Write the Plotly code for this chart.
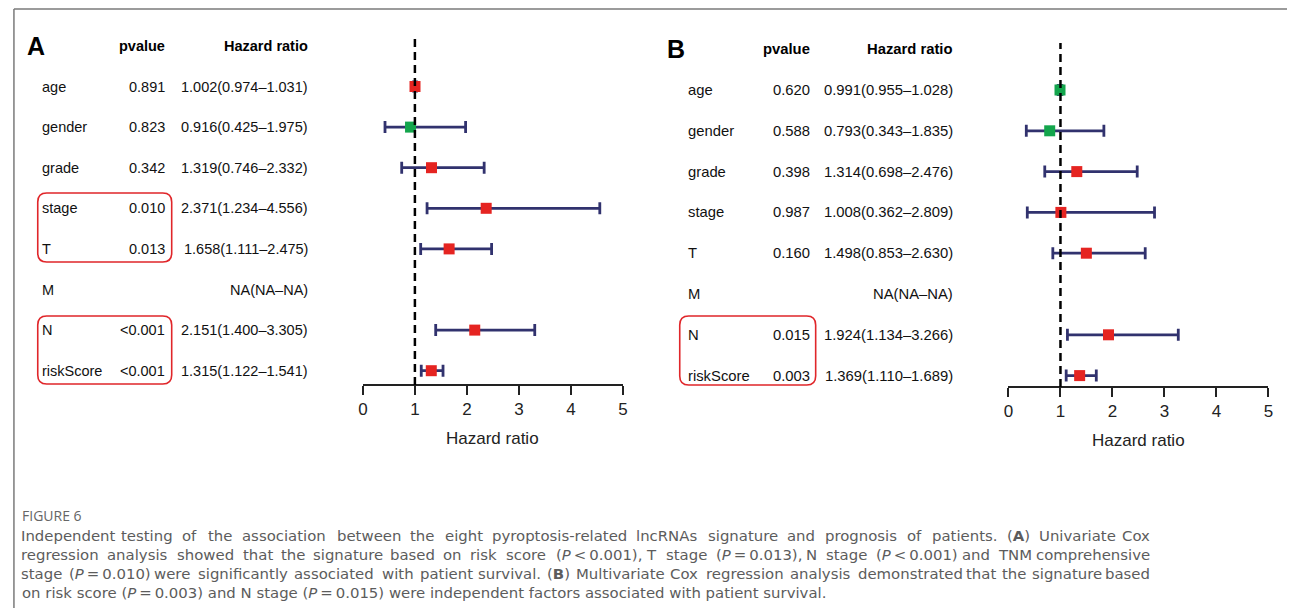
import re
import plotly.graph_objects as go

# ---------------- data ----------------
variables = ["age", "gender", "grade", "stage", "T", "M", "N", "riskScore"]

pvalue_A = ["0.891", "0.823", "0.342", "0.010", "0.013", "", "&lt;0.001", "&lt;0.001"]
hr_A = [1.002, 0.916, 1.319, 2.371, 1.658, None, 2.151, 1.315]
lo_A = [0.974, 0.425, 0.746, 1.234, 1.111, None, 1.400, 1.122]
hi_A = [1.031, 1.975, 2.332, 4.556, 2.475, None, 3.305, 1.541]

pvalue_B = ["0.620", "0.588", "0.398", "0.987", "0.160", "", "0.015", "0.003"]
hr_B = [0.991, 0.793, 1.314, 1.008, 1.498, None, 1.924, 1.369]
lo_B = [0.955, 0.343, 0.698, 0.362, 0.853, None, 1.134, 1.110]
hi_B = [1.028, 1.835, 2.476, 2.809, 2.630, None, 3.266, 1.689]

x_ticks = [0, 1, 2, 3, 4, 5]

caption_title = "FIGURE 6"
caption_lines = [
    "Independent testing of the association between the eight pyroptosis-related lncRNAs signature and prognosis of patients. (<b>A</b>) Univariate Cox",
    "regression analysis showed that the signature based on risk score (<i>P</i>\u2009&lt;\u20090.001), T stage (<i>P</i>\u2009=\u20090.013), N stage (<i>P</i>\u2009&lt;\u20090.001) and TNM comprehensive",
    "stage (<i>P</i>\u2009=\u20090.010) were significantly associated with patient survival. (<b>B</b>) Multivariate Cox regression analysis demonstrated that the signature based",
    "on risk score (<i>P</i>\u2009=\u20090.003) and N stage (<i>P</i>\u2009=\u20090.015) were independent factors associated with patient survival.",
]

# ---------------- layout helpers ----------------
W, H = 1292, 608
RED = "#e52421"
GREEN = "#13a54c"
NAVY = "#31326e"
BOXRED = "#e0262a"
FONT = "Liberation Sans, Arial, Helvetica, sans-serif"


def fx(p):
    return p / W


def fy(p):
    return 1 - p / H


def hr_text(h, l, u):
    if h is None:
        return "NA(NA\u2013NA)"
    return f"{h:.3f}({l:.3f}\u2013{u:.3f})"


fig = go.Figure()


def add_forest(hr, lo, hi, xa, ya):
    xs, ys, ep, em, cols = [], [], [], [], []
    for i, (h, l, u) in enumerate(zip(hr, lo, hi)):
        if h is None:
            continue
        xs.append(h)
        ys.append(i)
        ep.append(u - h)
        em.append(h - l)
        cols.append(RED if h > 1 else GREEN)
    fig.add_trace(go.Scatter(
        x=xs, y=ys, xaxis=xa, yaxis=ya, mode="markers",
        marker=dict(symbol="square", size=11, color=cols, line=dict(width=0)),
        error_x=dict(type="data", symmetric=False, array=ep, arrayminus=em,
                     color=NAVY, thickness=2.8, width=6),
        showlegend=False, hoverinfo="skip", cliponaxis=False,
    ))


add_forest(hr_A, lo_A, hi_A, "x", "y")
add_forest(hr_B, lo_B, hi_B, "x2", "y2")

annotations = []
shapes = []


def panel(letter, pv, hr, lo, hi, yref, x_letter, x_name, x_pv, x_hr, fs):
    annotations.append(dict(text=f"<b>{letter}</b>", xref="paper", yref=yref, x=fx(x_letter), y=-1,
                            xanchor="left", yanchor="middle", showarrow=False,
                            font=dict(family=FONT, size=25, color="black")))
    annotations.append(dict(text="<b>pvalue</b>", xref="paper", yref=yref, x=fx(x_pv), y=-1,
                            xanchor="right", yanchor="middle", showarrow=False,
                            font=dict(family=FONT, size=fs, color="black")))
    annotations.append(dict(text="<b>Hazard ratio</b>", xref="paper", yref=yref, x=fx(x_hr), y=-1,
                            xanchor="right", yanchor="middle", showarrow=False,
                            font=dict(family=FONT, size=fs, color="black")))
    for i, name in enumerate(variables):
        annotations.append(dict(text=name, xref="paper", yref=yref, x=fx(x_name), y=i,
                                xanchor="left", yanchor="middle", showarrow=False,
                                font=dict(family=FONT, size=fs, color="#111")))
        if pv[i]:
            annotations.append(dict(text=pv[i], xref="paper", yref=yref, x=fx(x_pv), y=i,
                                    xanchor="right", yanchor="middle", showarrow=False,
                                    font=dict(family=FONT, size=fs, color="#111")))
        annotations.append(dict(text=hr_text(hr[i], lo[i], hi[i]), xref="paper", yref=yref,
                                x=fx(x_hr), y=i, xanchor="right", yanchor="middle", showarrow=False,
                                font=dict(family=FONT, size=fs, color="#111")))


panel("A", pvalue_A, hr_A, lo_A, hi_A, "y", 20, 35, 163, 307, 14.5)
panel("B", pvalue_B, hr_B, lo_B, hi_B, "y2", 665, 686, 813, 957, 14.8)

# axis titles
for xr, ypx in (("x", 438), ("x2", 440)):
    annotations.append(dict(text="Hazard ratio", xref=f"{xr} domain", yref="paper", x=0.5, y=fy(ypx),
                            xanchor="center", yanchor="middle", showarrow=False,
                            font=dict(family=FONT, size=17, color="#222")))

# reference lines at HR = 1
for xr, top, bot in (("x", 39, 385), ("x2", 43, 387)):
    shapes.append(dict(type="line", xref=xr, yref="paper", x0=1, x1=1, y0=fy(bot), y1=fy(top),
                       line=dict(color="black", width=2.5, dash="8px,5px"), layer="above"))


# rounded highlight boxes
def rounded_box(x0, y0, x1, y1, r=9):
    pts = (f"M {fx(x0 + r)},{fy(y0)} L {fx(x1 - r)},{fy(y0)} Q {fx(x1)},{fy(y0)} {fx(x1)},{fy(y0 + r)} "
           f"L {fx(x1)},{fy(y1 - r)} Q {fx(x1)},{fy(y1)} {fx(x1 - r)},{fy(y1)} "
           f"L {fx(x0 + r)},{fy(y1)} Q {fx(x0)},{fy(y1)} {fx(x0)},{fy(y1 - r)} "
           f"L {fx(x0)},{fy(y0 + r)} Q {fx(x0)},{fy(y0)} {fx(x0 + r)},{fy(y0)} Z")
    return dict(type="path", xref="paper", yref="paper", path=pts,
                line=dict(color=BOXRED, width=1.6), fillcolor="rgba(0,0,0,0)")


shapes.append(rounded_box(33, 193, 168, 262))
shapes.append(rounded_box(33, 316, 168, 384))
shapes.append(rounded_box(680, 316, 817, 385))

# outer frame (top & left)
shapes.append(dict(type="line", xref="paper", yref="paper", x0=fx(9), x1=1, y0=fy(9), y1=fy(9),
                   line=dict(color="#7a7a7a", width=1.5)))
shapes.append(dict(type="line", xref="paper", yref="paper", x0=fx(9), x1=fx(9), y0=fy(9), y1=0,
                   line=dict(color="#7a7a7a", width=1.5)))

# caption
CAP_FONT = "DejaVu Sans, Open Sans, sans-serif"
CAP_SIZE = 14.9
CAP_COLOR = "#5c5c5c"
WIDTH_CAL = 0.978   # calibration of the rough width table


def est_width(s):
    """rough advance width of plain text (em units)"""
    s = re.sub(r"<[^>]+>", "", s).replace("&lt;", "<")
    w = 0.0
    for ch in s:
        if ch in "iljI.,:;|'":
            w += 0.28
        elif ch in "ftr()-":
            w += 0.39
        elif ch == " ":
            w += 0.32
        elif ch == "\u2009":
            w += 0.2
        elif ch in "mw":
            w += 0.9
        elif ch in "MW":
            w += 0.95
        elif ch.isupper():
            w += 0.72
        elif ch.isdigit() or ch in "<=":
            w += 0.64
        else:
            w += 0.61
    return w * WIDTH_CAL


annotations.append(dict(text=caption_title, xref="paper", yref="paper", x=fx(15), y=fy(515),
                        xanchor="left", yanchor="middle", showarrow=False,
                        font=dict(family="Open Sans, sans-serif", size=14, color="#666")))
cap_y = [536, 555, 574, 593]
left_px, right_px = 15, 1155
for k, (line, ypx) in enumerate(zip(caption_lines, cap_y)):
    if k == len(caption_lines) - 1:
        annotations.append(dict(text=line, xref="paper", yref="paper", x=fx(left_px), y=fy(ypx),
                                xanchor="left", yanchor="middle", showarrow=False,
                                font=dict(family=CAP_FONT, size=CAP_SIZE, color=CAP_COLOR)))
        continue
    # justified line: one annotation per word
    words = line.split(" ")
    widths = [est_width(wd) * CAP_SIZE for wd in words]
    gap = (right_px - left_px - sum(widths)) / (len(words) - 1)
    pos = left_px
    for j, (wd, wpx) in enumerate(zip(words, widths)):
        if j == len(words) - 1:
            xp, anc = right_px, "right"
        else:
            xp, anc = pos, "left"
        annotations.append(dict(text=wd, xref="paper", yref="paper", x=fx(xp), y=fy(ypx),
                                xanchor=anc, yanchor="middle", showarrow=False, borderpad=0,
                                font=dict(family=CAP_FONT, size=CAP_SIZE, color=CAP_COLOR)))
        pos += wpx + gap


# axes
def xaxis_cfg(x0p, x1p, ypx):
    return dict(domain=[fx(x0p), fx(x1p)], range=[0, 5], anchor="free", position=fy(ypx),
                showline=True, linecolor="#222", linewidth=1.5, ticks="outside", ticklen=9,
                tickwidth=1.5, tickcolor="#222", tickvals=x_ticks,
                tickfont=dict(family=FONT, size=17, color="#222"),
                showgrid=False, zeroline=False, fixedrange=True)


def yaxis_cfg(anchor, r0, step):
    return dict(domain=[0, 1], anchor=anchor, range=[(H - r0) / step, -r0 / step],
                visible=False, showgrid=False, zeroline=False, fixedrange=True)


fig.update_layout(
    width=W, height=H, margin=dict(l=0, r=0, t=0, b=0),
    paper_bgcolor="white", plot_bgcolor="rgba(0,0,0,0)",
    xaxis=xaxis_cfg(360.7, 622.7, 385),
    yaxis=yaxis_cfg("x", 86.5, 40.6),
    xaxis2=xaxis_cfg(1011.3, 1273.3, 387),
    yaxis2=yaxis_cfg("x2", 90.0, 40.8),
    annotations=annotations, shapes=shapes, showlegend=False,
)

fig.write_html("out.html")
